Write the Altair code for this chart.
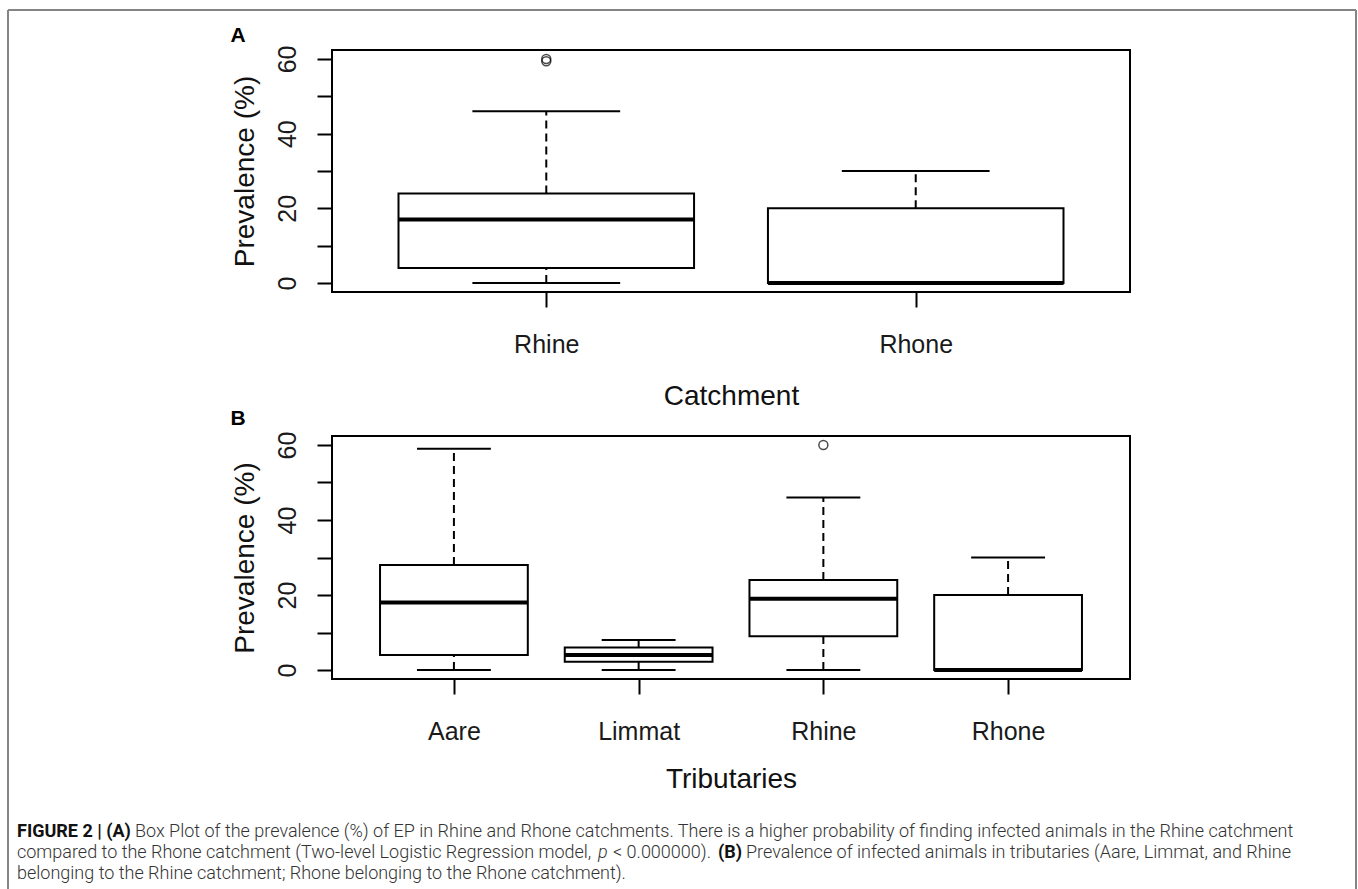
import json
import altair as alt
import pandas as pd

# ---------------- data ----------------
# Panel A: catchments
cats_a = ["Rhine", "Rhone"]
lo_a = [0, 0]
q1_a = [4, 0]
med_a = [17, 0]
q3_a = [24, 20]
hi_a = [46, 30]
out_a_cat = ["Rhine", "Rhine"]
out_a_val = [59.4, 60.0]

# Panel B: tributaries
cats_b = ["Aare", "Limmat", "Rhine", "Rhone"]
lo_b = [0, 0, 0, 0]
q1_b = [4, 2.2, 9, 0]
med_b = [18, 4, 19, 0]
q3_b = [28, 6, 24, 20]
hi_b = [59, 8, 46, 30]
out_b_cat = ["Rhine"]
out_b_val = [60.0]

y_ticks = [0, 10, 20, 30, 40, 50, 60]
y_domain = [-2.4, 62.4]

caption_1_bold = "FIGURE 2 | (A)"
caption_1 = ("Box Plot of the prevalence (%) of EP in Rhine and Rhone catchments. There is a higher "
             "probability of finding infected animals in the Rhine catchment")
caption_2a = "compared to the Rhone catchment (Two-level Logistic Regression model,"
caption_2p = "p"
caption_2b = "< 0.000000)."
caption_2_bold = "(B)"
caption_2c = "Prevalence of infected animals in tributaries (Aare, Limmat, and Rhine"
caption_3 = "belonging to the Rhine catchment; Rhone belonging to the Rhone catchment)."

FONT = "Liberation Sans"
CAP_FONT = "Roboto"
CAP_SIZE = 18
PLOT_W = 798


def one():
    return alt.Data(values=[{}])


def panel(cats, lo, q1, med, q3, hi, out_cat, out_val, xtitle, height, title_y, extra):
    n = len(cats)
    df = pd.DataFrame({"cat": cats, "pos": list(range(1, n + 1)),
                       "lo": lo, "q1": q1, "med": med, "q3": q3, "hi": hi})
    odf = pd.DataFrame({"cat": out_cat, "val": out_val,
                        "pos": [cats.index(c) + 1 for c in out_cat]})
    ext = 0.04 * n
    xscale = alt.Scale(domain=[0.5 - ext, n + 0.5 + ext], nice=False, zero=False)
    yscale = alt.Scale(domain=y_domain, nice=False, zero=False)
    xaxis = alt.Axis(values=list(range(1, n + 1)),
                     labelExpr=json.dumps(cats) + "[datum.value - 1]",
                     title=xtitle, labelPadding=37, labelBaseline="middle",
                     labelFlush=False, labelOverlap=False,
                     titleY=title_y, titleBaseline="middle")
    yaxis = alt.Axis(values=y_ticks,
                     labelExpr="datum.value % 20 == 0 ? datum.label : ''",
                     title="Prevalence (%)", labelAngle=270, labelAlign="center",
                     labelBaseline="bottom", labelPadding=17, labelFlush=False,
                     labelOverlap=False, titleAngle=270, titleX=-87,
                     titleY=height / 2, titleAlign="center", titleBaseline="middle")

    def X(f):
        return alt.X(f, type="quantitative", scale=xscale, axis=xaxis)

    def Y(f):
        return alt.Y(f, type="quantitative", scale=yscale, axis=yaxis)

    base = alt.Chart(df).transform_calculate(
        xl="datum.pos - 0.4", xr="datum.pos + 0.4",
        cl="datum.pos - 0.2", cr="datum.pos + 0.2")

    dash = dict(color="black", strokeWidth=2, strokeDash=[8, 5])
    whisk_up = base.mark_rule(**dash).encode(x=X("pos"), y=Y("q3"), y2="hi:Q")
    whisk_lo = base.mark_rule(**dash).encode(x=X("pos"), y=Y("lo"), y2="q1:Q")
    box = base.mark_rect(fill="white", stroke="black", strokeWidth=2).encode(
        x=X("xl"), x2="xr:Q", y=Y("q1"), y2="q3:Q")
    median = base.mark_rule(color="black", strokeWidth=4, strokeCap="butt").encode(
        x=X("xl"), x2="xr:Q", y=Y("med"))
    cap_hi = base.mark_rule(color="black", strokeWidth=2).encode(
        x=X("cl"), x2="cr:Q", y=Y("hi"))
    cap_lo = base.mark_rule(color="black", strokeWidth=2).encode(
        x=X("cl"), x2="cr:Q", y=Y("lo"))
    outl = alt.Chart(odf).mark_point(shape="circle", filled=False, color="black",
                                     size=80, strokeWidth=1.5).encode(
        x=X("pos"), y=Y("val"))
    layers = [whisk_up, whisk_lo, box, median, cap_hi, cap_lo, outl] + extra
    return alt.layer(*layers).properties(width=PLOT_W, height=height)


# ---------------- decorations ----------------
frame_color = "#858585"
frame = [
    alt.Chart(one()).mark_rule(color=frame_color, strokeWidth=2).encode(
        x=alt.value(-324), x2=alt.value(1024), y=alt.value(-40)),
    alt.Chart(one()).mark_rule(color=frame_color, strokeWidth=2).encode(
        x=alt.value(-324), y=alt.value(-40), y2=alt.value(860)),
    alt.Chart(one()).mark_rule(color=frame_color, strokeWidth=2).encode(
        x=alt.value(1024), y=alt.value(-40), y2=alt.value(860)),
]
label_a = alt.Chart(one()).mark_text(text="A", font=FONT, fontSize=21, fontWeight="bold",
                                      align="center", baseline="alphabetic", color="black").encode(
    x=alt.value(-94), y=alt.value(-8))
label_b = alt.Chart(one()).mark_text(text="B", font=FONT, fontSize=21, fontWeight="bold",
                                      align="center", baseline="alphabetic", color="black").encode(
    x=alt.value(-94), y=alt.value(-11))


def cap(text, x, y, weight=300, style="normal", color="#333"):
    return alt.Chart(one()).mark_text(text=text, font=CAP_FONT, fontSize=CAP_SIZE,
                                      fontWeight=weight, fontStyle=style, color=color,
                                      align="left", baseline="alphabetic").encode(
        x=alt.value(x), y=alt.value(y))


caption = [
    cap(caption_1_bold, -315, 401, weight="bold", color="#111"),
    cap(caption_1, -197, 401),
    cap(caption_2a, -315, 422),
    cap(caption_2p, 266, 422, style="italic"),
    cap(caption_2b, 281, 422),
    cap(caption_2_bold, 386, 422, weight="bold", color="#111"),
    cap(caption_2c, 414, 422),
    cap(caption_3, -315, 443),
]

panel_a = panel(cats_a, lo_a, q1_a, med_a, q3_a, hi_a, out_a_cat, out_a_val,
                "Catchment", 242, 104, frame + [label_a])
panel_b = panel(cats_b, lo_b, q1_b, med_b, q3_b, hi_b, out_b_cat, out_b_val,
                "Tributaries", 243, 100, [label_b] + caption)

chart = alt.vconcat(panel_a, panel_b, spacing=144, bounds="flush").properties(
    padding={"left": 6, "top": 8, "right": 0, "bottom": 0},
    background="white",
).configure_view(stroke="black", strokeWidth=2).configure_axis(
    domain=False, grid=False, ticks=True, tickColor="black", tickWidth=2, tickSize=15,
    labelFont=FONT, labelFontSize=25, labelColor="#1a1a1a",
    titleFont=FONT, titleFontSize=28, titleFontWeight="normal", titleColor="#111",
)

chart.save("out.html", embed_options={"renderer": "svg", "actions": False})
